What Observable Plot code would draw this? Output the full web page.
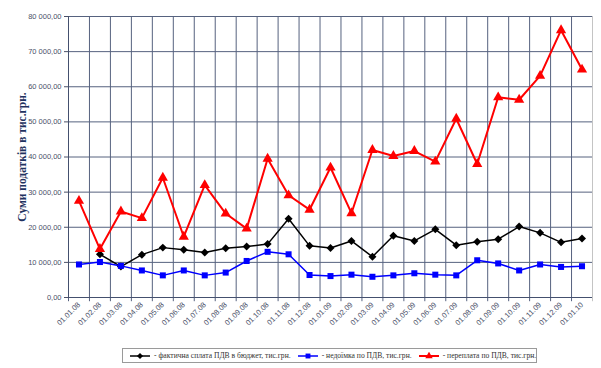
<!DOCTYPE html>
<html>
<head>
<meta charset="utf-8">
<script src="https://cdn.jsdelivr.net/npm/d3@7"></script>
<script src="https://cdn.jsdelivr.net/npm/@observablehq/plot@0.6"></script>
<style>
  html, body { margin: 0; padding: 0; background: #fff; }
  #wrap { position: relative; width: 601px; height: 368px; overflow: hidden; }
  #legend {
    position: absolute; left: 122px; top: 348px; width: 413px; height: 13px;
    border: 1px solid #9a9a9a; background: #fff;
    font-family: "Liberation Serif", "DejaVu Serif", serif; font-size: 7.6px; color: #333;
    display: flex; align-items: center; white-space: nowrap; box-sizing: content-box;
  }
  #legend .it { display: flex; align-items: center; margin-left: 6px; }
  #legend .it svg { margin-right: 3px; }
</style>
</head>
<body>
<div id="wrap">
  <div id="chart"></div>
  <div id="legend"></div>
</div>
<script>
const labels = ["01.01.08","01.02.08","01.03.08","01.04.08","01.05.08","01.06.08","01.07.08","01.08.08","01.09.08","01.10.08","01.11.08","01.12.08",
                "01.01.09","01.02.09","01.03.09","01.04.09","01.05.09","01.06.09","01.07.09","01.08.09","01.09.09","01.10.09","01.11.09","01.12.09","01.01.10"];
const paid     = [null, 12300, 8800, 12200, 14200, 13600, 12800, 14000, 14500, 15200, 22400, 14700,
                  14100, 16100, 11600, 17600, 16100, 19400, 14900, 15900, 16600, 20200, 18400, 15700, 16800];
const arrears  = [9400, 10100, 9000, 7700, 6300, 7700, 6300, 7100, 10400, 13000, 12300, 6400,
                  6100, 6500, 5900, 6300, 6900, 6500, 6300, 10600, 9700, 7700, 9400, 8700, 8900];
const overpaid = [27500, 13800, 24500, 22600, 34100, 17300, 32000, 23900, 19600, 39500, 29100, 25000,
                  37000, 24000, 42000, 40300, 41700, 38700, 50900, 38000, 57000, 56300, 63100, 76100, 64900];
const yTicks = [0, 10000, 20000, 30000, 40000, 50000, 60000, 70000, 80000];
const seriesNames = ["- фактична сплата ПДВ в бюджет, тис.грн.", "- недоїмка по ПДВ, тис.грн.", "- переплата по ПДВ, тис.грн."];
const yTitle = "Суми податків в тис.грн.";

const colors = ["#000000", "#0000ff", "#ff0000"];
const symbols = ["diamond2", "square", "triangle"];
const widths = [1.5, 1.5, 2];
const allSeries = [paid, arrears, overpaid];

const rows = [];
allSeries.forEach((arr, s) => arr.forEach((v, i) => { if (v != null) rows.push({s, i: i + 0.5, v}); }));

const loc = d3.formatLocale({decimal: ",", thousands: " ", grouping: [3], currency: ["", ""]});
const fmt = loc.format(",.2f");
const gridColor = "#56627f";
const boundaries = d3.range(labels.length + 1);

const marks = [
  Plot.ruleY(yTicks, {y: d => d, stroke: gridColor, strokeWidth: 1}),
  Plot.ruleX(boundaries, {x: d => d, y1: -1200, y2: 80000, stroke: d => d === labels.length ? "#c4c4c4" : gridColor, strokeWidth: 1}),
  Plot.ruleX([0], {y1: 0, y2: 80000, stroke: "#44506e", strokeWidth: 1}),
  Plot.ruleY([0], {stroke: "#44506e", strokeWidth: 1}),
  Plot.text([yTitle], {frameAnchor: "left", textAnchor: "middle", rotate: -90, dx: -46, text: d => d,
    fontFamily: "Liberation Serif, DejaVu Serif, serif", fontWeight: "bold", fontSize: 11.5, fill: "#1f3260"})
];
[0, 1, 2].forEach(s => {
  const data = rows.filter(r => r.s === s);
  marks.push(Plot.line(data, {x: "i", y: "v", stroke: colors[s], strokeWidth: widths[s]}));
  marks.push(Plot.dot(data, {x: "i", y: "v", symbol: () => symbols[s], fill: colors[s], stroke: "none", r: s === 0 ? 3.6 : s === 1 ? 3.4 : 3.8}));
});

const chart = Plot.plot({
  width: 601,
  height: 340,
  marginLeft: 68,
  marginRight: 9,
  marginTop: 16,
  marginBottom: 43,
  style: {fontFamily: "Liberation Sans, Arial, sans-serif", fontSize: "7.5px", color: "#4a5068", background: "#fff"},
  symbol: {type: "identity"},
  x: {type: "linear", domain: [0, labels.length], ticks: labels.map((d, i) => i + 0.5),
      tickFormat: d => labels[Math.round(d - 0.5)], tickRotate: -45, tickSize: 0, tickPadding: 6, label: null},
  y: {domain: [0, 80000], ticks: yTicks, tickFormat: fmt, tickSize: 4, tickPadding: 3, label: null},
  marks
});
document.getElementById("chart").appendChild(chart);

// legend
const leg = document.getElementById("legend");
seriesNames.forEach((name, s) => {
  const it = document.createElement("div");
  it.className = "it";
  const ns = "http://www.w3.org/2000/svg";
  const sw = document.createElementNS(ns, "svg");
  sw.setAttribute("width", 22); sw.setAttribute("height", 8);
  const ln = document.createElementNS(ns, "line");
  ln.setAttribute("x1", 1); ln.setAttribute("x2", 21); ln.setAttribute("y1", 4); ln.setAttribute("y2", 4);
  ln.setAttribute("stroke", colors[s]); ln.setAttribute("stroke-width", widths[s]);
  sw.appendChild(ln);
  const p = document.createElementNS(ns, "path");
  const sym = s === 0 ? d3.symbolDiamond2 : s === 1 ? d3.symbolSquare : d3.symbolTriangle;
  p.setAttribute("d", d3.symbol(sym, 24)());
  p.setAttribute("transform", "translate(11,4)");
  p.setAttribute("fill", colors[s]);
  sw.appendChild(p);
  it.appendChild(sw);
  const t = document.createElement("span");
  t.textContent = name;
  it.appendChild(t);
  leg.appendChild(it);
});
</script>
</body>
</html>
